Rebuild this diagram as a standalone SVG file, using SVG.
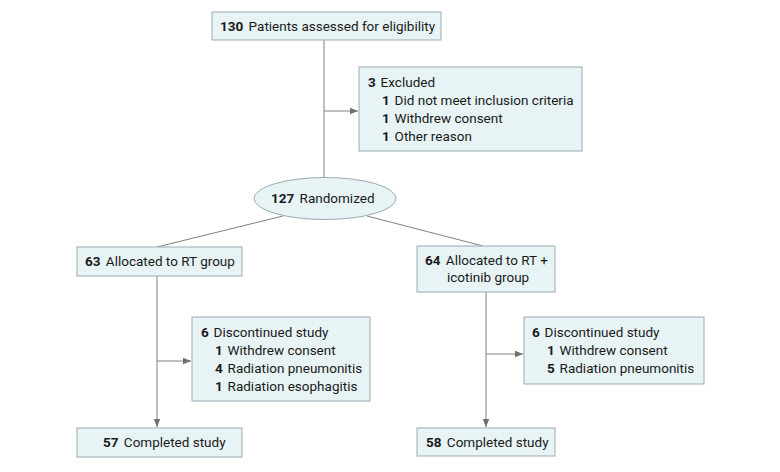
<svg xmlns="http://www.w3.org/2000/svg" width="780" height="472" viewBox="0 0 780 472">
<style>
.box{fill:#e8f3f5;stroke:#9aabaf;stroke-width:1}
.t{font-family:Roboto,"Liberation Sans",sans-serif;font-size:13.5px;fill:#1a1a1a}
.b{font-weight:bold}
.ln{stroke:#808080;stroke-width:1;fill:none}
</style>
<defs>
<marker id="ah" viewBox="0 0 10 10" refX="10" refY="5" markerWidth="8" markerHeight="8" markerUnits="userSpaceOnUse" orient="auto">
<path d="M0,1 L10,5 L0,9 z" fill="#707070"/>
</marker>
</defs>
<rect width="780" height="472" fill="#ffffff"/>
<g id="connectors">
<path class="ln" d="M324,40 V178"/>
<path class="ln" d="M324,111 H358" marker-end="url(#ah)"/>
<path class="ln" d="M283,216 L157,247"/>
<path class="ln" d="M367,216 L483,246"/>
<path class="ln" d="M157,276 V427" marker-end="url(#ah)"/>
<path class="ln" d="M157,361 H191" marker-end="url(#ah)"/>
<path class="ln" d="M486,292 V427" marker-end="url(#ah)"/>
<path class="ln" d="M486,354 H523" marker-end="url(#ah)"/>
</g>
<g id="assessed">
<rect class="box" x="212" y="12" width="229" height="28"/>
<text class="t" x="220" y="31"><tspan class="b">130</tspan><tspan dx="2"> Patients assessed for eligibility</tspan></text>
</g>
<g id="excluded">
<rect class="box" x="359" y="67" width="223" height="84"/>
<text class="t" x="368" y="87"><tspan class="b">3</tspan><tspan dx="1.5"> Excluded</tspan></text>
<text class="t" x="382" y="105"><tspan class="b">1</tspan><tspan dx="1.5"> Did not meet inclusion criteria</tspan></text>
<text class="t" x="382" y="123"><tspan class="b">1</tspan><tspan dx="1.5"> Withdrew consent</tspan></text>
<text class="t" x="382" y="141"><tspan class="b">1</tspan><tspan dx="1.5"> Other reason</tspan></text>
</g>
<g id="randomized">
<ellipse class="box" cx="325" cy="198.5" rx="71" ry="21"/>
<text class="t" x="271" y="203"><tspan class="b">127</tspan><tspan dx="2"> Randomized</tspan></text>
</g>
<g id="rt">
<rect class="box" x="77" y="247" width="165" height="29"/>
<text class="t" x="85" y="266"><tspan class="b">63</tspan><tspan dx="2"> Allocated to RT group</tspan></text>
</g>
<g id="rticotinib">
<rect class="box" x="417" y="246" width="138" height="46"/>
<text class="t" x="425" y="265"><tspan class="b">64</tspan><tspan dx="2"> Allocated to RT +</tspan></text>
<text class="t" x="447" y="282">icotinib group</text>
</g>
<g id="disc1">
<rect class="box" x="192" y="317" width="178" height="84"/>
<text class="t" x="201" y="337"><tspan class="b">6</tspan><tspan dx="1.5"> Discontinued study</tspan></text>
<text class="t" x="215" y="355"><tspan class="b">1</tspan><tspan dx="1.5"> Withdrew consent</tspan></text>
<text class="t" x="215" y="373"><tspan class="b">4</tspan><tspan dx="1.5"> Radiation pneumonitis</tspan></text>
<text class="t" x="215" y="391"><tspan class="b">1</tspan><tspan dx="1.5"> Radiation esophagitis</tspan></text>
</g>
<g id="disc2">
<rect class="box" x="524" y="317" width="180" height="67"/>
<text class="t" x="532" y="337"><tspan class="b">6</tspan><tspan dx="1.5"> Discontinued study</tspan></text>
<text class="t" x="547" y="355"><tspan class="b">1</tspan><tspan dx="1.5"> Withdrew consent</tspan></text>
<text class="t" x="547" y="373"><tspan class="b">5</tspan><tspan dx="1.5"> Radiation pneumonitis</tspan></text>
</g>
<g id="comp1">
<rect class="box" x="77" y="428" width="165" height="29"/>
<text class="t" x="103" y="447"><tspan class="b">57</tspan><tspan dx="2"> Completed study</tspan></text>
</g>
<g id="comp2">
<rect class="box" x="417" y="428" width="138" height="28"/>
<text class="t" x="426" y="447"><tspan class="b">58</tspan><tspan dx="2"> Completed study</tspan></text>
</g>
</svg>
